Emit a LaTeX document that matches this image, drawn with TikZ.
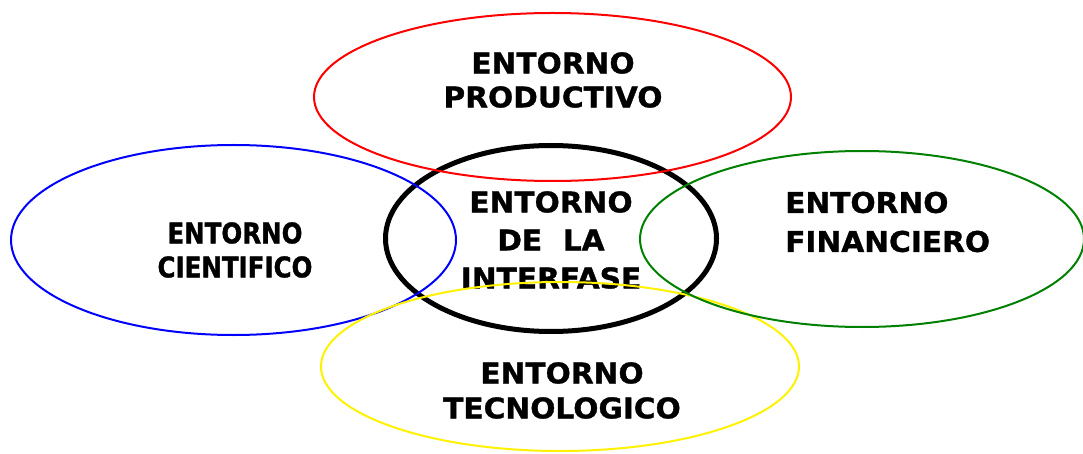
\documentclass[tikz,border=0pt]{standalone}
\usepackage{fontspec}
\setmainfont[FakeStretch=1.04,BoldFeatures={FakeBold=1.2}]{DejaVu Sans}
\newfontfamily\narrowfam[FakeStretch=0.86,BoldFeatures={FakeBold=1.2}]{DejaVu Sans}
\begin{document}
\begin{tikzpicture}[x=1pt,y=-1pt,
	ring/.style={line width=2pt},
	lbl/.style={inner sep=0pt,align=center,font=\bfseries\fontsize{28.5}{#1}\selectfont}]
\useasboundingbox (0,0) rectangle (1083,454);
% centre
\draw[line width=5pt] (551,238.5) ellipse [x radius=165.5,y radius=93];
\node[lbl=38] (interfase) at (551,240) {ENTORNO\\DE\ \ LA\\INTERFASE};
% the four around it
\draw[ring,blue] (233.5,240) ellipse [x radius=222.5,y radius=95];
\node[lbl=34,font=\narrowfam\bfseries\fontsize{28.5}{34}\selectfont] (cientifico) at (235,250) {ENTORNO\\CIENTIFICO};
\draw[ring,yellow] (560,366.5) ellipse [x radius=239,y radius=84.5];
\node[lbl=35] (tecnologico) at (562,390.5) {ENTORNO\\TECNOLOGICO};
\draw[ring,green!50!black] (862,239) ellipse [x radius=222,y radius=88];
\node[lbl=39,align=left,anchor=west] (financiero) at (785,222) {ENTORNO\\FINANCIERO};
\draw[ring,red] (552.5,97) ellipse [x radius=238.5,y radius=84];
\node[lbl=34] (productivo) at (553,80) {ENTORNO\\PRODUCTIVO};
\end{tikzpicture}
\end{document}
